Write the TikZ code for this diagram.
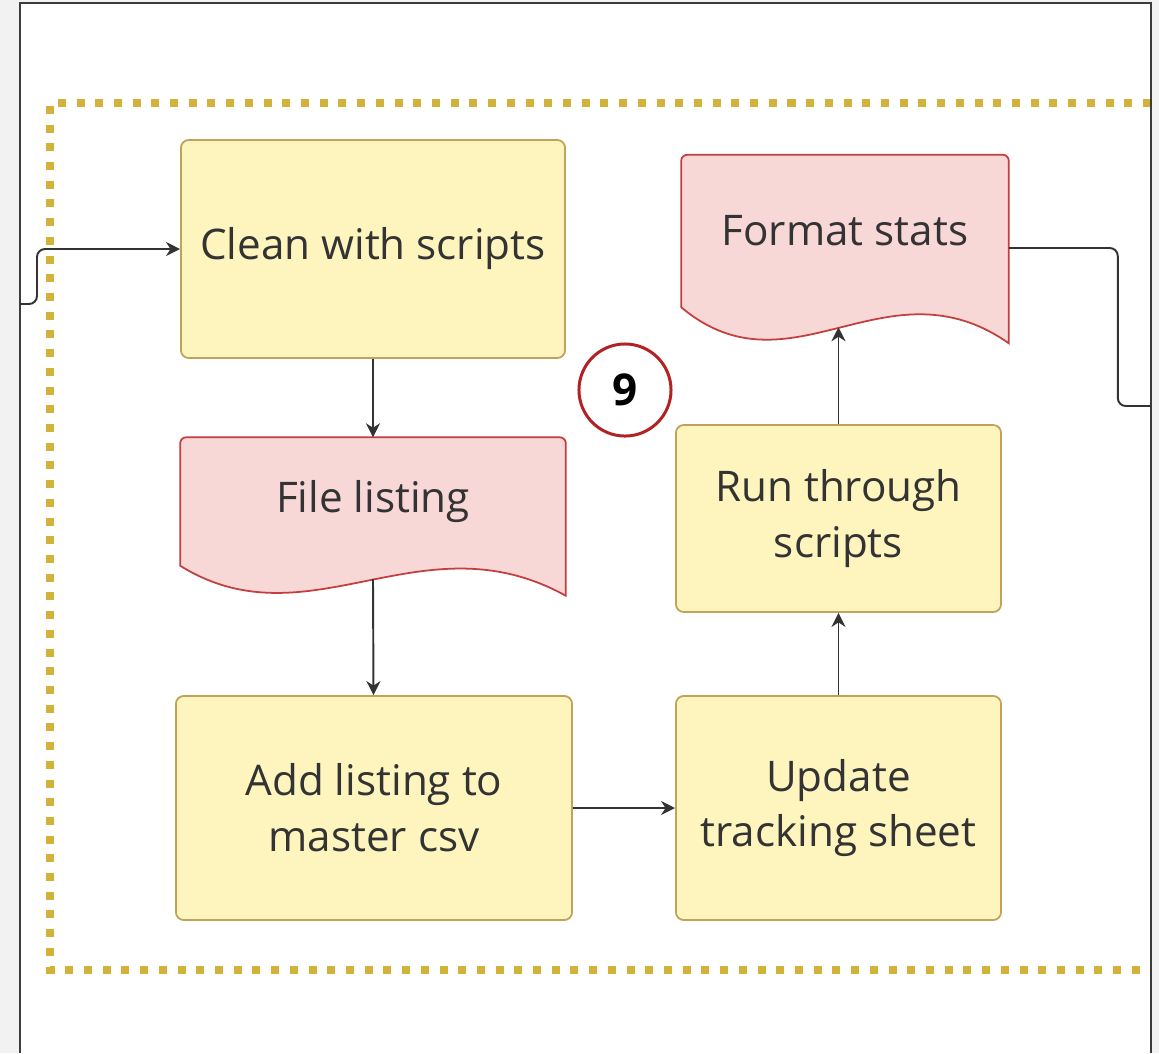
\documentclass[tikz,border=0pt]{standalone}
\usepackage{fontspec}
\setmainfont{Open Sans}
\usetikzlibrary{arrows.meta,calc,backgrounds}

\definecolor{boxfill}{RGB}{254,245,190}
\definecolor{boxline}{RGB}{192,163,88}
\definecolor{docfill}{RGB}{248,215,215}
\definecolor{docedge}{RGB}{196,62,62}
\definecolor{ringred}{RGB}{178,34,34}
\definecolor{dotgold}{RGB}{210,178,58}
\definecolor{wire}{RGB}{51,51,51}
\definecolor{pagegray}{RGB}{242,242,242}
\definecolor{framecol}{RGB}{60,60,60}

% outline of a document shape round a node: #2 drop of right end, #3 dip of the wave
\newcommand{\docoutline}[3]{%
  \draw[docline] (#1.south west) [rounded corners=0.6mm] -- (#1.north west) -- (#1.north east)
    [sharp corners] -- ($(#1.south east)+(0,#2)$)
    .. controls ($(#1.south west)!0.625!(#1.south east)+(0,-50)$)
    and ($(#1.south west)!0.335!(#1.south east)+(0,#3)$) .. (#1.south west) -- cycle;}

\begin{document}
\begin{tikzpicture}[x=0.01cm, y=-0.01cm,
    procbox/.style={draw=boxline, fill=boxfill, line width=0.5pt, rounded corners=0.8mm,
      align=center, text=wire, font=\fontsize{12}{15.9}\selectfont},
    docnode/.style={align=center, text=wire, font=\fontsize{12}{15.9}\selectfont},
    docline/.style={draw=docedge, fill=docfill, line width=0.5pt},
    conn/.style={draw=wire, line width=0.55pt, -{Stealth[length=1.4mm,width=1.4mm]}},
    plainconn/.style={draw=wire, line width=0.55pt},
    groupline/.style={draw=dotgold, line width=0.075cm, dash pattern=on 0.08cm off 0.107cm}]
  \begin{scope}[on background layer]
    \fill[pagegray] (0,0) rectangle (1159,1053);
    \fill[white] (20,3) rectangle (1151,1053);
  \end{scope}
  \useasboundingbox (0,0) rectangle (1159,1053);

  \draw[groupline] (1151,103) -- (50,103) -- (50,970) -- (1151,970);
  \draw[framecol, line width=0.45pt] (20,1053) -- (20,3) -- (1151,3) -- (1151,1053);

  \node[procbox, minimum width=3.84cm, minimum height=2.18cm] (clean) at (373,249) {Clean with scripts};
  \node[docnode, minimum width=3.84cm, minimum height=1.27cm] (listing) at (373,501.5) {File listing};
  \node[procbox, minimum width=3.96cm, minimum height=2.24cm] (addcsv) at (374,808) {Add listing to\\master csv};
  \node[procbox, minimum width=3.25cm, minimum height=2.24cm] (update) at (838.5,808) {Update\\tracking sheet};
  \node[procbox, minimum width=3.25cm, minimum height=1.87cm] (runscripts) at (838.5,518.5) {Run through\\scripts};
  \node[docnode, minimum width=3.26cm, minimum height=1.51cm] (fmtstats) at (845,231) {Format stats};
  \node[circle, draw=ringred, line width=0.85pt, minimum size=0.92cm, inner sep=0pt,
    text=black, font=\fontsize{12.5}{15}\selectfont\bfseries] (step9) at (625,390) {9};

  \begin{scope}[on background layer]
    \docoutline{listing}{30}{80}
    \docoutline{fmtstats}{36}{92}
  \end{scope}

  \coordinate (leftend) at (20,304);
  \coordinate (rightend) at (1151,406);
  \coordinate (listingwave) at ($(listing.south)+(0,13)$);
  \coordinate (fmtwave) at ($(fmtstats.south)+(0,20)$);
  \coordinate (fmtexit) at ($(fmtstats.east)+(0,17)$);

  \draw[conn, rounded corners=0.8mm] (leftend) -- ++(17,0) |- (clean.west);
  \draw[conn] (clean) -- (listing);
  \draw[conn] (listingwave) -- (addcsv);
  \draw[conn] (addcsv) -- (update);
  \draw[conn] (update) -- (runscripts);
  \draw[conn] (runscripts) -- (runscripts |- fmtwave);
  \draw[plainconn, rounded corners=0.8mm] (fmtexit) -- ++(109,0) |- (rightend);
\end{tikzpicture}
\end{document}
